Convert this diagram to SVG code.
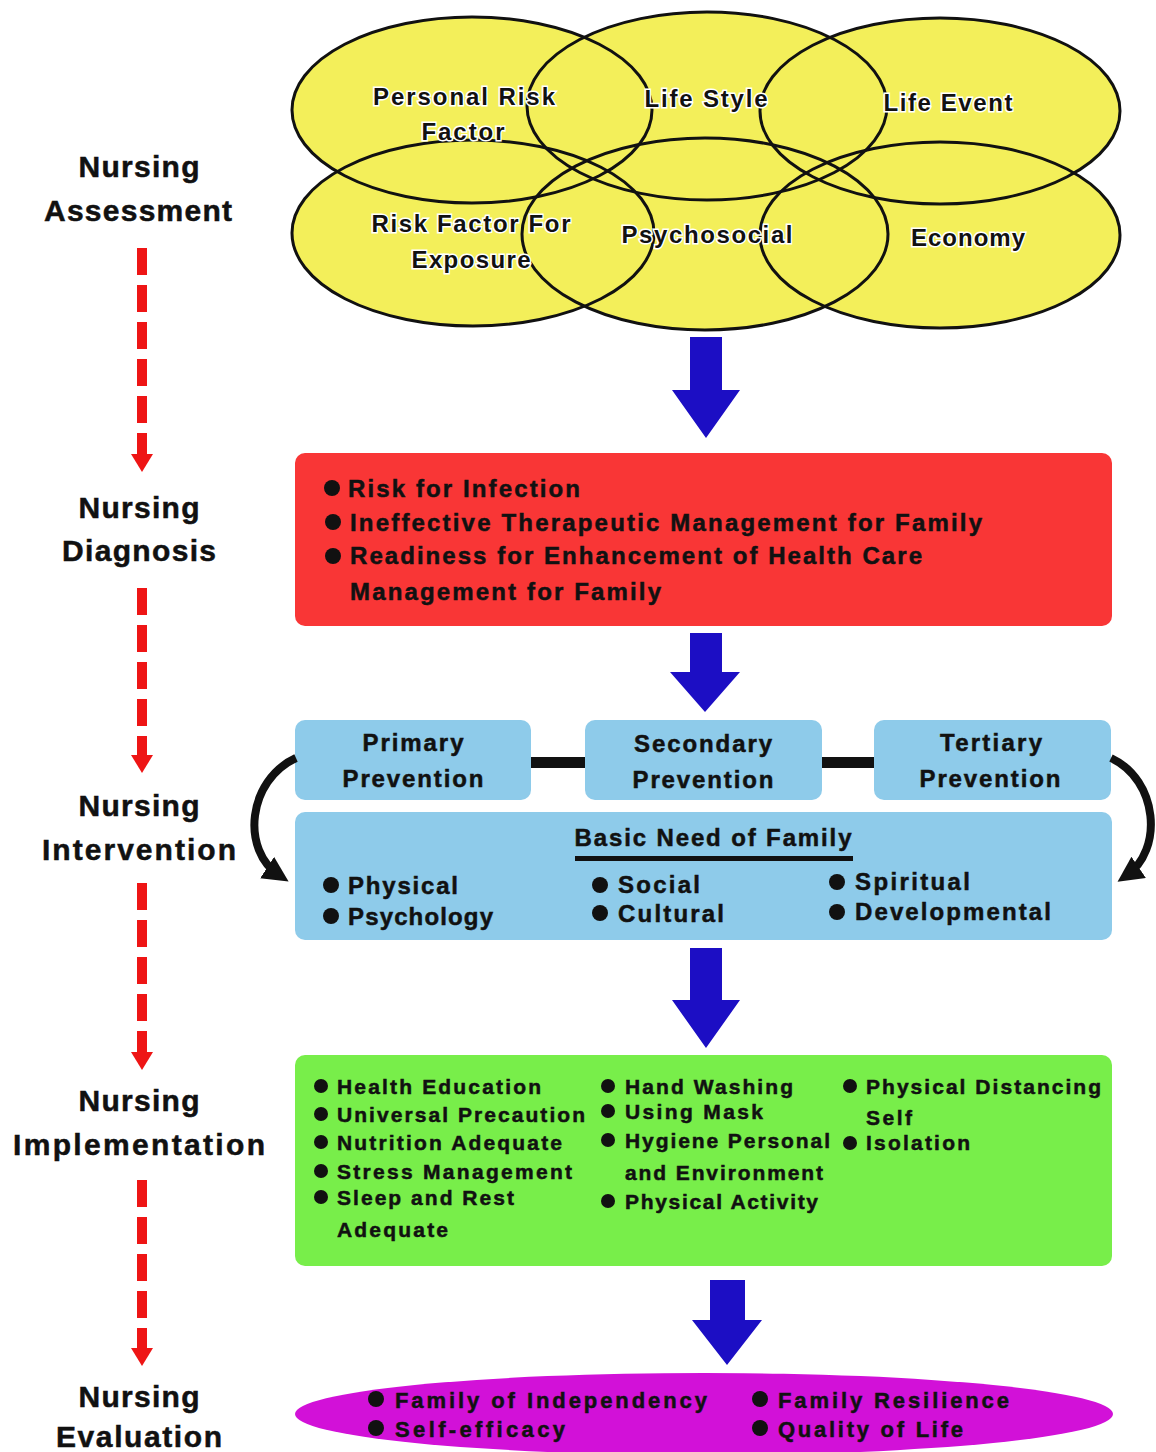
<svg xmlns="http://www.w3.org/2000/svg" width="1156" height="1452" viewBox="0 0 1156 1452">
<style>
text{font-family:"Liberation Sans",Arial,sans-serif;font-weight:bold;fill:#111;stroke:#111;stroke-width:0.5px;}
.lbl{font-size:30px;text-anchor:middle;}
.ell{font-size:24px;text-anchor:middle;stroke:#fff;stroke-width:3px;paint-order:stroke fill;}
.t24{font-size:24px;}
.t22{font-size:22px;}
.t21{font-size:21px;}
.c24{font-size:24px;text-anchor:middle;}
.venn{fill:#f3ef5a;stroke:none;}
.vennline{fill:none;stroke:#111;stroke-width:3;}
.blue{fill:#8ecbea;}
.dash{stroke:#ee1515;stroke-width:10;stroke-dasharray:27 10;fill:none;}
.redhead{fill:#ee1515;}
.barrow{fill:#1c0ec4;}
.bul{fill:#111;}
.curve{fill:none;stroke:#111;stroke-width:8;}
</style>
<defs>
<marker id="ah" viewBox="0 0 10 10" refX="6" refY="5" markerWidth="3.2" markerHeight="3.2" orient="auto" markerUnits="strokeWidth">
<path d="M0,0 L10,5 L0,10 z" fill="#111"/>
</marker>
</defs>

<!-- Left process labels -->
<g id="label-assessment">
<text class="lbl" x="139" y="177" textLength="121" lengthAdjust="spacing">Nursing</text>
<text class="lbl" x="138" y="221" textLength="188" lengthAdjust="spacing">Assessment</text>
</g>
<g id="label-diagnosis">
<text class="lbl" x="139" y="518" textLength="121" lengthAdjust="spacing">Nursing</text>
<text class="lbl" x="139" y="561" textLength="154" lengthAdjust="spacing">Diagnosis</text>
</g>
<g id="label-intervention">
<text class="lbl" x="139" y="816" textLength="121" lengthAdjust="spacing">Nursing</text>
<text class="lbl" x="139" y="860" textLength="194" lengthAdjust="spacing">Intervention</text>
</g>
<g id="label-implementation">
<text class="lbl" x="139" y="1111" textLength="121" lengthAdjust="spacing">Nursing</text>
<text class="lbl" x="139" y="1155" textLength="252" lengthAdjust="spacing">Implementation</text>
</g>
<g id="label-evaluation">
<text class="lbl" x="139" y="1407" textLength="121" lengthAdjust="spacing">Nursing</text>
<text class="lbl" x="139" y="1447" textLength="166" lengthAdjust="spacing">Evaluation</text>
</g>

<!-- Venn ellipses (assessment) -->
<g id="assessment-venn">
<ellipse class="venn" cx="472" cy="110" rx="180" ry="93"/>
<ellipse class="venn" cx="707" cy="106" rx="180" ry="94"/>
<ellipse class="venn" cx="940" cy="111" rx="180" ry="93"/>
<ellipse class="venn" cx="473" cy="233" rx="181" ry="93"/>
<ellipse class="venn" cx="705" cy="234" rx="183" ry="96"/>
<ellipse class="venn" cx="940" cy="235" rx="180" ry="93"/>
<ellipse class="vennline" cx="472" cy="110" rx="180" ry="93"/>
<ellipse class="vennline" cx="707" cy="106" rx="180" ry="94"/>
<ellipse class="vennline" cx="940" cy="111" rx="180" ry="93"/>
<ellipse class="vennline" cx="473" cy="233" rx="181" ry="93"/>
<ellipse class="vennline" cx="705" cy="234" rx="183" ry="96"/>
<ellipse class="vennline" cx="940" cy="235" rx="180" ry="93"/>
</g>
<g id="venn-labels">
<text class="ell" x="464" y="105" textLength="182" lengthAdjust="spacing">Personal Risk</text>
<text class="ell" x="463" y="140" textLength="83" lengthAdjust="spacing">Factor</text>
<text class="ell" x="706" y="107" textLength="123" lengthAdjust="spacing">Life Style</text>
<text class="ell" x="948" y="111" textLength="129" lengthAdjust="spacing">Life Event</text>
<text class="ell" x="471" y="232" textLength="199" lengthAdjust="spacing">Risk Factor For</text>
<text class="ell" x="471" y="268" textLength="119" lengthAdjust="spacing">Exposure</text>
<text class="ell" x="707" y="243" textLength="171" lengthAdjust="spacing">Psychosocial</text>
<text class="ell" x="968" y="246" textLength="114" lengthAdjust="spacing">Economy</text>
</g>

<!-- Diagnosis box -->
<g id="diagnosis">
<rect x="295" y="453" width="817" height="173" rx="10" fill="#f93636"/>
<circle class="bul" cx="332" cy="488" r="8"/>
<text class="t24" x="348" y="497" textLength="232" lengthAdjust="spacing">Risk for Infection</text>
<circle class="bul" cx="333" cy="522" r="8"/>
<text class="t24" x="350" y="531" textLength="632" lengthAdjust="spacing">Ineffective Therapeutic Management for Family</text>
<circle class="bul" cx="333" cy="556" r="8"/>
<text class="t24" x="350" y="564" textLength="572" lengthAdjust="spacing">Readiness for Enhancement of Health Care</text>
<text class="t24" x="350" y="600" textLength="311" lengthAdjust="spacing">Management for Family</text>
</g>

<!-- Prevention boxes -->
<g id="primary-prevention">
<rect class="blue" x="295" y="720" width="236" height="80" rx="10"/>
<text class="c24" x="413" y="751" textLength="101" lengthAdjust="spacing">Primary</text>
<text class="c24" x="413" y="787" textLength="141" lengthAdjust="spacing">Prevention</text>
</g>
<g id="secondary-prevention">
<rect class="blue" x="585" y="720" width="237" height="80" rx="10"/>
<text class="c24" x="703" y="752" textLength="138" lengthAdjust="spacing">Secondary</text>
<text class="c24" x="703" y="788" textLength="141" lengthAdjust="spacing">Prevention</text>
</g>
<g id="tertiary-prevention">
<rect class="blue" x="874" y="720" width="237" height="80" rx="10"/>
<text class="c24" x="991" y="751" textLength="102" lengthAdjust="spacing">Tertiary</text>
<text class="c24" x="990" y="787" textLength="141" lengthAdjust="spacing">Prevention</text>
</g>

<!-- Basic need box -->
<g id="basic-need">
<rect class="blue" x="295" y="812" width="817" height="128" rx="10"/>
<text class="c24" x="713" y="846" textLength="277" lengthAdjust="spacing">Basic Need of Family</text>
<rect x="575" y="856" width="278" height="5" fill="#111"/>
<circle class="bul" cx="331" cy="885" r="8"/>
<text class="t24" x="348" y="894" textLength="110" lengthAdjust="spacing">Physical</text>
<circle class="bul" cx="331" cy="916" r="8"/>
<text class="t24" x="348" y="925" textLength="145" lengthAdjust="spacing">Psychology</text>
<circle class="bul" cx="600" cy="885" r="8"/>
<text class="t24" x="618" y="893" textLength="82" lengthAdjust="spacing">Social</text>
<circle class="bul" cx="600" cy="913" r="8"/>
<text class="t24" x="618" y="922" textLength="106" lengthAdjust="spacing">Cultural</text>
<circle class="bul" cx="837" cy="882" r="8"/>
<text class="t24" x="855" y="890" textLength="115" lengthAdjust="spacing">Spiritual</text>
<circle class="bul" cx="837" cy="912" r="8"/>
<text class="t24" x="855" y="920" textLength="196" lengthAdjust="spacing">Developmental</text>
</g>

<!-- Implementation box -->
<g id="implementation">
<rect x="295" y="1055" width="817" height="211" rx="10" fill="#78ee4a"/>
<circle class="bul" cx="321" cy="1086" r="7"/>
<text class="t21" x="337" y="1094" textLength="204" lengthAdjust="spacing">Health Education</text>
<circle class="bul" cx="321" cy="1114" r="7"/>
<text class="t21" x="337" y="1122" textLength="248" lengthAdjust="spacing">Universal Precaution</text>
<circle class="bul" cx="321" cy="1142" r="7"/>
<text class="t21" x="337" y="1150" textLength="225" lengthAdjust="spacing">Nutrition Adequate</text>
<circle class="bul" cx="321" cy="1171" r="7"/>
<text class="t21" x="337" y="1179" textLength="235" lengthAdjust="spacing">Stress Management</text>
<circle class="bul" cx="321" cy="1197" r="7"/>
<text class="t21" x="337" y="1205" textLength="177" lengthAdjust="spacing">Sleep and Rest</text>
<text class="t21" x="337" y="1237" textLength="111" lengthAdjust="spacing">Adequate</text>
<circle class="bul" cx="608" cy="1086" r="7"/>
<text class="t21" x="625" y="1094" textLength="168" lengthAdjust="spacing">Hand Washing</text>
<circle class="bul" cx="608" cy="1111" r="7"/>
<text class="t21" x="625" y="1119" textLength="138" lengthAdjust="spacing">Using Mask</text>
<circle class="bul" cx="608" cy="1140" r="7"/>
<text class="t21" x="625" y="1148" textLength="205" lengthAdjust="spacing">Hygiene Personal</text>
<text class="t21" x="625" y="1180" textLength="198" lengthAdjust="spacing">and Environment</text>
<circle class="bul" cx="608" cy="1201" r="7"/>
<text class="t21" x="625" y="1209" textLength="193" lengthAdjust="spacing">Physical Activity</text>
<circle class="bul" cx="850" cy="1086" r="7"/>
<text class="t21" x="866" y="1094" textLength="235" lengthAdjust="spacing">Physical Distancing</text>
<text class="t21" x="866" y="1125" textLength="46" lengthAdjust="spacing">Self</text>
<circle class="bul" cx="850" cy="1143" r="7"/>
<text class="t21" x="866" y="1150" textLength="104" lengthAdjust="spacing">Isolation</text>
</g>

<!-- Evaluation ellipse -->
<g id="evaluation">
<ellipse cx="704" cy="1414" rx="409" ry="41" fill="#d211d8"/>
<circle class="bul" cx="376" cy="1399" r="8"/>
<text class="t22" x="395" y="1408" textLength="312" lengthAdjust="spacing">Family of Independency</text>
<circle class="bul" cx="376" cy="1428" r="8"/>
<text class="t22" x="395" y="1437" textLength="170" lengthAdjust="spacing">Self-efficacy</text>
<circle class="bul" cx="760" cy="1399" r="8"/>
<text class="t22" x="778" y="1408" textLength="231" lengthAdjust="spacing">Family Resilience</text>
<circle class="bul" cx="760" cy="1428" r="8"/>
<text class="t22" x="778" y="1437" textLength="185" lengthAdjust="spacing">Quality of Life</text>
</g>

<!-- Connectors -->
<g id="connectors">
<line class="dash" x1="142" y1="248" x2="142" y2="455"/>
<polygon class="redhead" points="131,454 153,454 142,472"/>
<line class="dash" x1="142" y1="588" x2="142" y2="756"/>
<polygon class="redhead" points="131,755 153,755 142,773"/>
<line class="dash" x1="142" y1="883" x2="142" y2="1053"/>
<polygon class="redhead" points="131,1052 153,1052 142,1070"/>
<line class="dash" x1="142" y1="1180" x2="142" y2="1349"/>
<polygon class="redhead" points="131,1348 153,1348 142,1366"/>
<polygon class="barrow" points="690,337 722,337 722,390 740,390 706,438 672,390 690,390"/>
<polygon class="barrow" points="690,633 722,633 722,672 740,672 705,712 670,672 690,672"/>
<polygon class="barrow" points="690,948 722,948 722,1000 740,1000 706,1048 672,1000 690,1000"/>
<polygon class="barrow" points="710,1280 745,1280 745,1320 762,1320 727,1365 692,1320 710,1320"/>
<rect x="531" y="757" width="54" height="11" fill="#111"/>
<rect x="822" y="757" width="52" height="11" fill="#111"/>
<path class="curve" d="M296,758 C248,780 240,850 280,876" marker-end="url(#ah)"/>
<path class="curve" d="M1111,758 C1158,780 1164,850 1126,876" marker-end="url(#ah)"/>
</g>
</svg>
